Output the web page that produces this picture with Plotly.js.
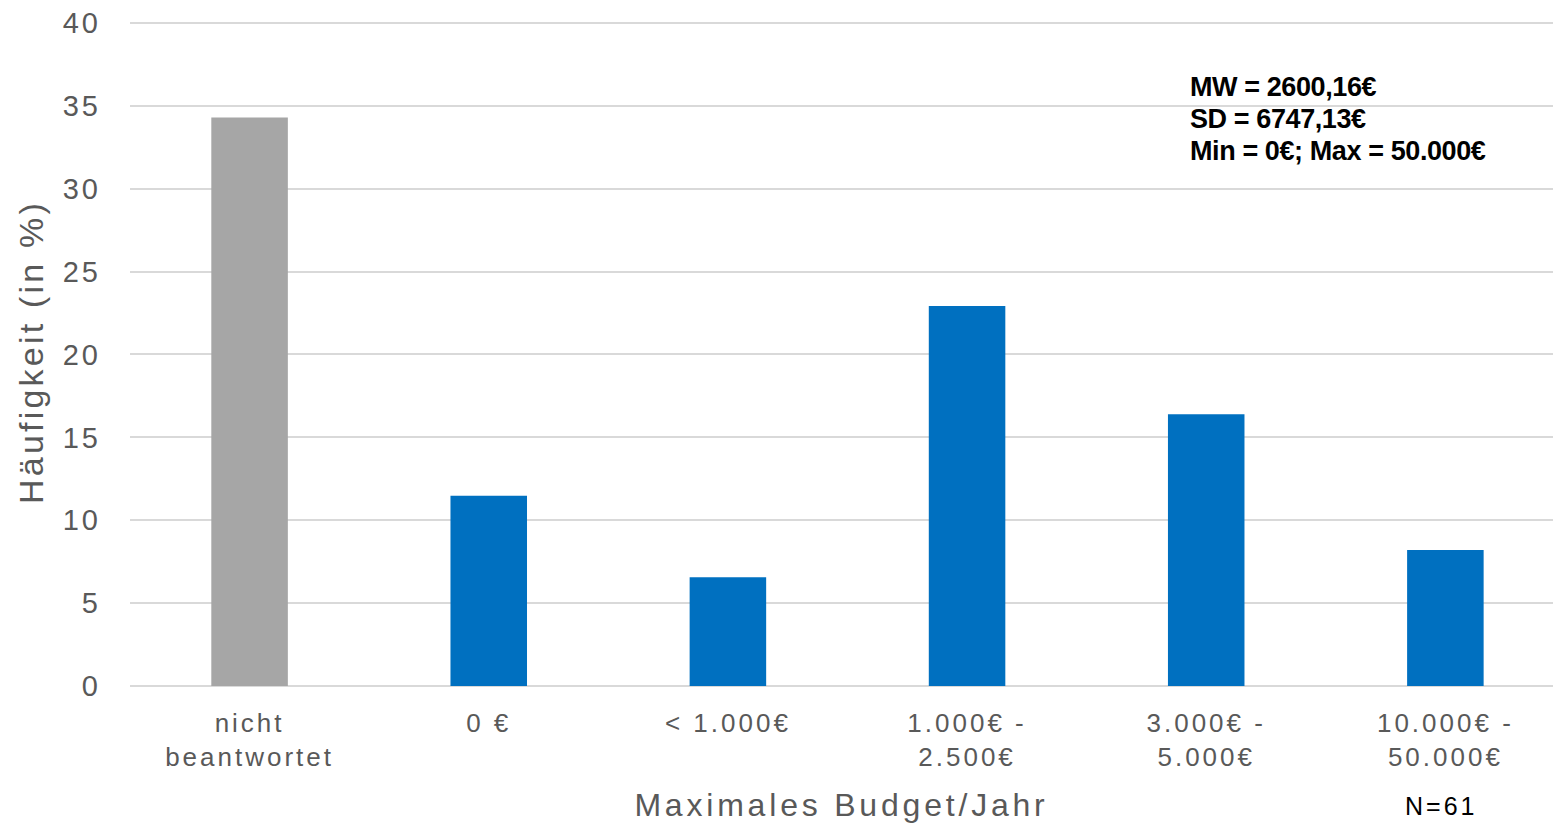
<!DOCTYPE html>
<html><head><meta charset="utf-8">
<script src="https://cdn.plot.ly/plotly-3.0.1.min.js"></script>
<style>
html,body{margin:0;padding:0;background:#fff}
.xtick text{letter-spacing:3px}
.ytick text{letter-spacing:3px}
.g-xtitle text{letter-spacing:3.8px}
.g-ytitle text{letter-spacing:3.2px}
.annotation[data-index="0"] text,.annotation[data-index="1"] text,.annotation[data-index="2"] text{letter-spacing:-0.4px}
.annotation[data-index="3"] text{letter-spacing:3px}
</style>
</head><body>
<div id="chart" style="width:1553px;height:824px"></div>
<script>
const categories = ["nicht<br>beantwortet", "0 €", "< 1.000€", "1.000€ -<br>2.500€", "3.000€ -<br>5.000€", "10.000€ -<br>50.000€"];
const values = [34.3, 11.48, 6.56, 22.92, 16.39, 8.20];
const barColors = ["#A6A6A6", "#0070C0", "#0070C0", "#0070C0", "#0070C0", "#0070C0"];
const statsLines = ["MW = 2600,16€", "SD = 6747,13€", "Min = 0€; Max = 50.000€"];
const sampleNote = "N=61";

const gray = "#595959";
const plotTop = 18, plotH = 668, plotL = 130, plotW = 1423;
const statAnnotations = statsLines.map((t, i) => ({
  xref: "paper", yref: "paper",
  x: (1188 - plotL) / plotW, y: 1 - (87 + 32 * i - plotTop) / plotH,
  xanchor: "left", yanchor: "middle", align: "left",
  text: t, showarrow: false,
  font: {family: "Liberation Sans, Arial, sans-serif", size: 27, weight: 700, color: "#000"}
}));

Plotly.newPlot("chart", [{
  type: "bar",
  x: categories,
  y: values,
  marker: {color: barColors},
  hoverinfo: "none"
}], {
  width: 1553, height: 824,
  margin: {l: plotL, r: 0, t: plotTop, b: 824 - plotTop - plotH},
  paper_bgcolor: "#fff", plot_bgcolor: "#fff",
  bargap: 0.68,
  showlegend: false,
  font: {family: "Liberation Sans, Arial, sans-serif", color: gray},
  xaxis: {
    type: "category",
    range: [-0.5, 5.45],
    showgrid: false, zeroline: false, showline: false,
    ticks: "",
    tickfont: {size: 26, color: gray},
    ticklabelstandoff: 19,
    title: {text: "Maximales Budget/Jahr", font: {size: 32, color: gray}, standoff: 22}
  },
  yaxis: {
    range: [0, 40.3],
    tickvals: [0, 5, 10, 15, 20, 25, 30, 35, 40],
    showgrid: true, gridcolor: "#D9D9D9", gridwidth: 2,
    zeroline: true, zerolinecolor: "#D9D9D9", zerolinewidth: 2,
    showline: false, ticks: "",
    tickfont: {size: 29, color: gray},
    ticklabelstandoff: 28,
    title: {text: "Häufigkeit (in %)", font: {size: 34, color: gray}, standoff: 8}
  },
  annotations: statAnnotations.concat([{
    xref: "paper", yref: "paper",
    x: (1441 - plotL) / plotW, y: -(806 - plotTop - plotH) / plotH,
    xanchor: "center", yanchor: "middle",
    text: sampleNote, showarrow: false,
    font: {family: "Liberation Sans, Arial, sans-serif", size: 25, color: "#000"}
  }])
}, {displayModeBar: false, staticPlot: true});
</script>
</body></html>
